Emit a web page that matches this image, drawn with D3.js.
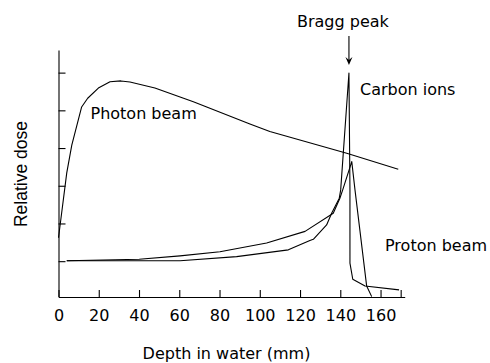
<!DOCTYPE html>
<html>
<head>
<meta charset="utf-8">
<script src="https://cdn.jsdelivr.net/npm/d3@7"></script>
<style>
  body { margin: 0; background: #fff; }
  text { font-family: "DejaVu Sans", Verdana, sans-serif; fill: #000; }
</style>
</head>
<body>
<svg id="chart" width="490" height="363"></svg>
<script>
// depth (mm) / relative dose
var photonDepth = [0, 4.1, 6.6, 11.5, 14.5, 19.8, 25.6, 31, 35.5, 47.9, 67, 95.1, 105, 143.2, 168.8];
var photonDose  = [1.62, 3.34, 4.08, 5.09, 5.32, 5.59, 5.76, 5.78, 5.75, 5.59, 5.23, 4.64, 4.44, 3.86, 3.44];

var protonDepth = [4.1, 40.1, 60.4, 80.2, 103.4, 122.5, 136.5, 139.8, 141.2, 145.7, 147.3, 153.1, 155.6];
var protonDose  = [1.01, 1.05, 1.14, 1.25, 1.48, 1.79, 2.27, 2.67, 2.89, 3.64, 2.89, 0.34, 0.06];

var carbonDepth = [4.1, 40.1, 60.4, 88.5, 114.2, 124.9, 126.6, 133.2, 135.7, 139.5, 140.2, 144.3, 144.8, 144.8, 146.2, 152.3, 169.2];
var carbonDose  = [1.01, 1.01, 1.01, 1.12, 1.30, 1.55, 1.58, 1.96, 2.27, 2.67, 2.89, 5.99, 2.89, 0.95, 0.52, 0.34, 0.24];

var xTicks = [0, 20, 40, 60, 80, 100, 120, 140, 160, 170];
var yTicks = [1, 2, 3, 4, 5, 6];

var svg = d3.select('#chart');

var x = d3.scaleLinear().domain([0, 172]).range([58.5, 404.7]);
var y = d3.scaleLinear().domain([0.05, 6.6]).range([297, 50]);

function zip(xs, ys) {
  return xs.map(function(d, i) { return [d, ys[i]]; });
}

var line = d3.line()
  .x(function(d) { return x(d[0]); })
  .y(function(d) { return y(d[1]); });

// axes
var xAxis = d3.axisBottom(x)
  .tickValues(xTicks)
  .tickFormat(function(d) { return d === 170 ? '' : d; })
  .tickSizeInner(-7)
  .tickSizeOuter(0)
  .tickPadding(13);

var gx = svg.append('g')
  .attr('transform', 'translate(0,' + y(0.05) + ')')
  .call(xAxis);
gx.selectAll('text').style('font-size', '16px').style('font-family', '"DejaVu Sans", Verdana, sans-serif');

var yAxis = d3.axisLeft(y)
  .tickValues(yTicks)
  .tickFormat('')
  .tickSizeInner(-7)
  .tickSizeOuter(0);

svg.append('g')
  .attr('transform', 'translate(' + x(0) + ',0)')
  .call(yAxis);

svg.selectAll('.domain, .tick line').attr('stroke', '#000').attr('stroke-width', 1.1);

// curves
[zip(photonDepth, photonDose), zip(protonDepth, protonDose), zip(carbonDepth, carbonDose)]
  .forEach(function(pts) {
    svg.append('path')
      .datum(pts)
      .attr('d', line)
      .attr('fill', 'none')
      .attr('stroke', '#000')
      .attr('stroke-width', 1.1)
      .attr('stroke-linejoin', 'round');
  });

// Bragg peak arrow
var ax = x(144.3), tip = y(5.99) - 8;
svg.append('line')
  .attr('x1', ax).attr('x2', ax)
  .attr('y1', 36).attr('y2', tip - 4)
  .attr('stroke', '#000').attr('stroke-width', 1.1);
svg.append('path')
  .attr('d', 'M' + (ax - 3.5) + ',' + (tip - 8) + 'L' + ax + ',' + tip + 'L' + (ax + 3.5) + ',' + (tip - 8) + 'L' + ax + ',' + (tip - 5) + 'Z')
  .attr('fill', '#000');

// labels
function label(tx, ty, s) {
  svg.append('text').attr('x', tx).attr('y', ty).style('font-size', '16px').text(s);
}
label(297, 27, 'Bragg peak');
label(360, 95, 'Carbon ions');
label(90.5, 119, 'Photon beam');
label(385, 251, 'Proton beam');

svg.append('text')
  .attr('x', 226.5).attr('y', 359)
  .attr('text-anchor', 'middle')
  .style('font-size', '16px')
  .text('Depth in water (mm)');

svg.append('text')
  .attr('transform', 'translate(27,174) rotate(-90)')
  .attr('text-anchor', 'middle')
  .style('font-family', '"Liberation Sans", Arial, sans-serif')
  .style('font-size', '17.5px')
  .text('Relative dose');
</script>
</body>
</html>
